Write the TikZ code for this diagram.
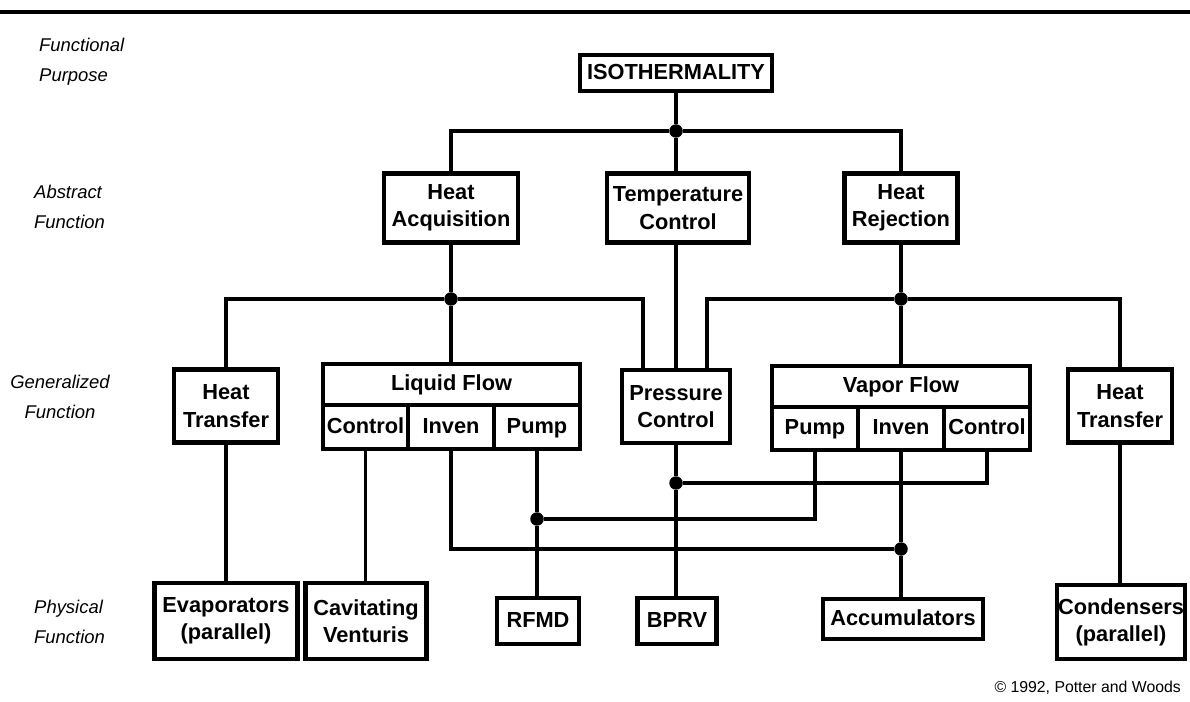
\documentclass[tikz,border=0pt]{standalone}
\usepackage{fontspec}
\setmainfont{Liberation Sans}
\usetikzlibrary{positioning}

\tikzset{
  box/.style={draw, line width=2.3pt, align=center, inner sep=0pt,
    font=\bfseries\fontsize{12.4}{15.5}\selectfont},
  cell/.style={box, text height=1.75ex, text depth=0.45ex},
  sz/.style 2 args={minimum width=#1*0.02cm, minimum height=#2*0.02cm},
  wire/.style={line width=1.8pt},
  solidwire/.style={line width=1.9pt},
  joint/.style={circle, fill, inner sep=0pt, minimum size=0.27cm},
  level/.style={font=\itshape\fontsize{10.5}{17}\selectfont, align=left}
}

\begin{document}
\begin{tikzpicture}[x=0.02cm, y=-0.02cm]
    \useasboundingbox (0,0) rectangle (1190,702);
    \draw[line width=2.3pt] (0,12) -- (1190,12);

    \node[level, anchor=west] (lvfp) at (33,62) {Functional\\Purpose};
    \node[level, anchor=west] (lvaf) at (28,207) {Abstract\\Function};
    \node[level, align=center] (lvgf) at (60,397) {Generalized\\Function};
    \node[level, anchor=west] (lvpf) at (28,622) {Physical\\Function};

    \node[cell, sz={192}{36}] (iso) at (676,73) {ISOTHERMALITY};

    \node[box, sz={134}{69}] (hacq) at (451,208) {Heat\\Acquisition};
    \node[box, sz={142}{69}] (tctl) at (678,208) {Temperature\\Control};
    \node[box, sz={113}{69}] (hrej) at (901,208) {Heat\\Rejection};

    \node[box, sz={104}{73}] (htl) at (226,406) {Heat\\Transfer};
    \node[cell, sz={257}{41}] (liq) at (451.5,384.5) {Liquid Flow};
    \node[cell, sz={85}{44}] (liqc) at (365.5,427) {Control};
    \node[cell, sz={86}{44}] (liqi) at (451,427) {Inven};
    \node[cell, sz={86}{44}] (liqp) at (537,427) {Pump};
    \node[box, sz={108}{73}] (pctl) at (676,406.5) {Pressure\\Control};
    \node[cell, sz={258}{41}] (vap) at (901,386.5) {Vapor Flow};
    \node[cell, sz={86}{43}] (vapp) at (815,428.5) {Pump};
    \node[cell, sz={86}{43}] (vapi) at (901,428.5) {Inven};
    \node[cell, sz={86}{43}] (vapc) at (987,428.5) {Control};
    \node[box, sz={104}{73}] (htr) at (1120,406) {Heat\\Transfer};

    \node[box, sz={143}{76}] (evap) at (226,621) {Evaporators\\(parallel)};
    \node[box, sz={121}{76}] (cav) at (366,621) {Cavitating\\Venturis};
    \node[cell, sz={82}{46}] (rfmd) at (538,621) {RFMD};
    \node[cell, sz={79}{46}] (bprv) at (677,621) {BPRV};
    \node[cell, sz={160}{40}] (accu) at (903,619) {Accumulators};
    \node[box, sz={128}{74}] (cond) at (1121,622) {Condensers\\(parallel)};

    \node[anchor=east, font=\fontsize{9}{11}\selectfont] (copy) at (1187,688)
      {\textcopyright{} 1992, Potter and Woods};

    \node[joint] (j0) at (676,131) {};
    \node[joint] (j1) at (451,299) {};
    \node[joint] (j2) at (901,299) {};
    \node[joint] (j3) at (537,519) {};
    \node[joint] (j4) at (676,483) {};
    \node[joint] (j5) at (901,549) {};
    \coordinate (pa) at (643,299);
    \coordinate (pb) at (707,299);

    \draw[wire] (iso) -- (j0);
    \draw[wire] (j0) -| (hacq);
    \draw[wire] (j0) -- (j0 |- tctl.north);
    \draw[wire] (j0) -| (hrej);

    \draw[wire] (hacq) -- (j1) -- (j1 |- liq.north);
    \draw[wire] (j1) -| (htl);
    \draw[wire] (j1) -- (pa) -- (pa |- pctl.north);
    \draw[solidwire] (pctl |- tctl.south) -- (pctl.north);
    \draw[wire] (hrej) -- (j2) -- (j2 |- vap.north);
    \draw[wire] (j2) -- (pb) -- (pb |- pctl.north);
    \draw[wire] (j2) -| (htr);

    \draw[wire] (htl) -- (evap);
    \draw[wire] (liqc) -- (liqc |- cav.north);
    \draw[wire] (liqp) -- (j3) -- (j3 |- rfmd.north);
    \draw[solidwire] (j3) -| (vapp);
    \draw[solidwire] (pctl) -- (j4) -- (j4 |- bprv.north);
    \draw[wire] (j4) -| (vapc);
    \draw[wire] (vapi) -- (j5) -- (j5 |- accu.north);
    \draw[solidwire] (liqi) |- (j5);
    \draw[wire] (htr) -- (htr |- cond.north);
\end{tikzpicture}
\end{document}
